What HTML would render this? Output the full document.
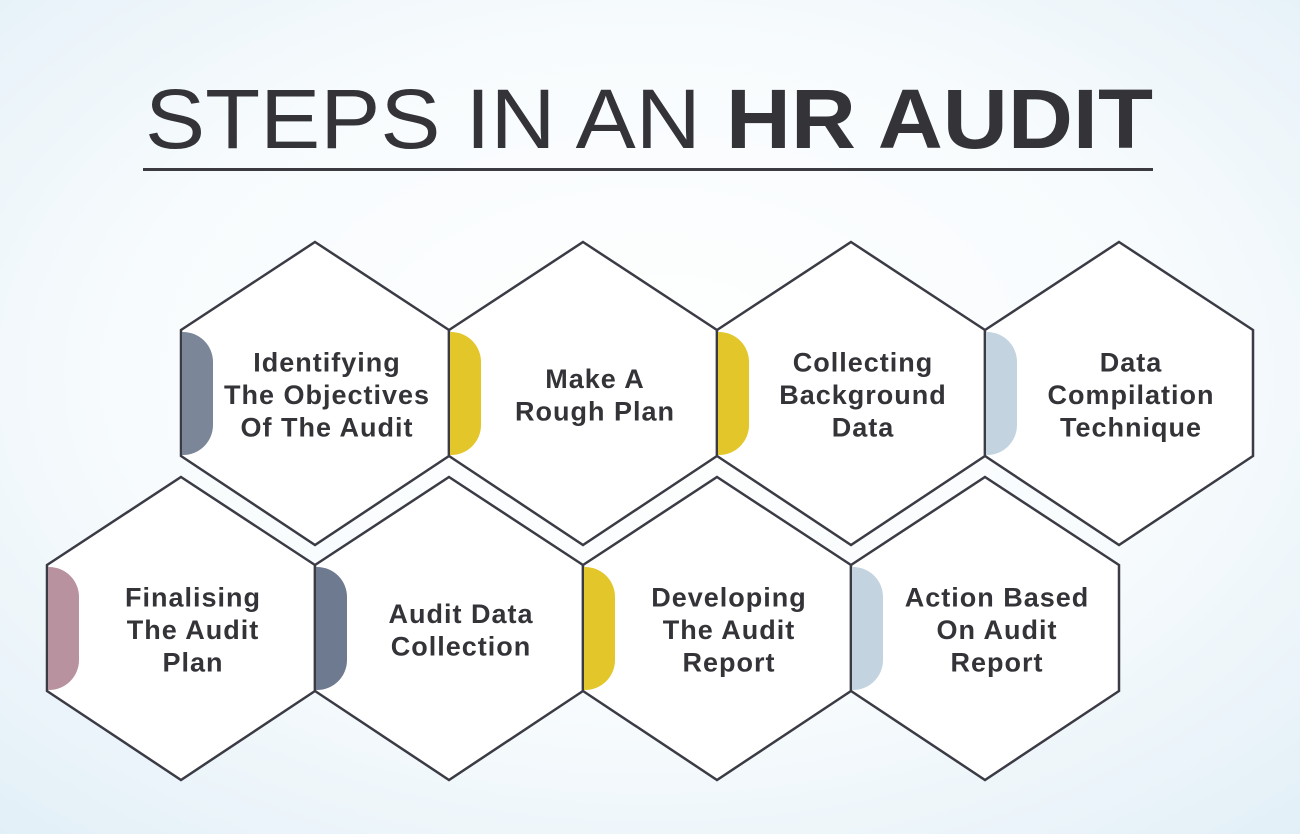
<!DOCTYPE html>
<html><head><meta charset="utf-8"><style>
html,body{margin:0;padding:0;width:1300px;height:834px;overflow:hidden}
svg{display:block}
</style></head><body>
<svg id="s" width="1300" height="834" viewBox="0 0 1300 834">
<defs>
<radialGradient id="bg" cx="0.5" cy="0.45" r="0.75">
<stop offset="0" stop-color="#ffffff"/><stop offset="0.55" stop-color="#f7fbfd"/><stop offset="1" stop-color="#e2eff7"/>
</radialGradient>
</defs>
<rect width="1300" height="834" fill="url(#bg)"/>
<text x="145" y="148" font-family="Liberation Sans, sans-serif" font-size="84" fill="#333338" textLength="1008" lengthAdjust="spacingAndGlyphs">STEPS IN AN <tspan font-weight="bold">HR AUDIT</tspan></text>
<rect x="143" y="168" width="1010" height="3" fill="#3a3a40"/>
<g id="hexes"></g>
</svg>
<script>
const labels = [
 ["Identifying","The Objectives","Of The Audit"],
 ["Make A","Rough Plan"],
 ["Collecting","Background","Data"],
 ["Data","Compilation","Technique"],
 ["Finalising","The Audit","Plan"],
 ["Audit Data","Collection"],
 ["Developing","The Audit","Report"],
 ["Action Based","On Audit","Report"]
];
const capColors = ["#7b8799","#e3c62a","#e3c62a","#c3d4e0","#b992a0","#6e7a8f","#e3c62a","#c3d4e0"];
const cols = [0,1,2,3,0,1,2,3];
const rows = [0,0,0,0,1,1,1,1];
const NS="http://www.w3.org/2000/svg";
const g=document.getElementById('hexes');
const X0=[315,181], Y0=[242,477], DX=268, HW=134;
function mk(t,a){const e=document.createElementNS(NS,t);for(const k in a)e.setAttribute(k,a[k]);return e;}
const order=[4,5,6,7,0,1,2,3];
order.forEach(i=>{
  const lab=labels[i];
  const cx=X0[rows[i]]+cols[i]*DX, ty=Y0[rows[i]];
  const l=cx-HW, r=cx+HW, y1=ty+88, y2=ty+214, by=ty+303;
  const grp=mk('g',{});
  
  
  const hex=mk('polygon',{points:`${cx},${ty} ${r},${y1} ${r},${y2} ${cx},${by} ${l},${y2} ${l},${y1}`,fill:'#ffffff',stroke:'#3b3b45','stroke-width':2.5,'stroke-linejoin':'miter'});
  
  
  grp.appendChild(hex);
  const cw=32, rr=30, cy1=y1+2, cy2=y2-1;
  const cap=mk('path',{d:`M${l+1},${cy1} L${l+cw-rr},${cy1} A${rr},${rr} 0 0 1 ${l+cw},${cy1+rr} L${l+cw},${cy2-rr} A${rr},${rr} 0 0 1 ${l+cw-rr},${cy2} L${l+1},${cy2} Z`,fill:capColors[i]});
  
  
  grp.appendChild(cap);
  const midY=(y1+y2)/2+2, lh=32.5, n=lab.length;
  const txt=mk('text',{x:cx+12,'font-family':'Liberation Sans, sans-serif','font-weight':'bold','font-size':27,'letter-spacing':1,fill:'#333338','text-anchor':'middle'});
  
  
  lab.forEach((s,k)=>{const ts=mk('tspan',{x:cx+12,y:midY-(n-1)*lh/2+k*lh+9});ts.textContent=s;txt.appendChild(ts);});
  grp.appendChild(txt);
  g.appendChild(grp);
});
</script>
</body></html>
